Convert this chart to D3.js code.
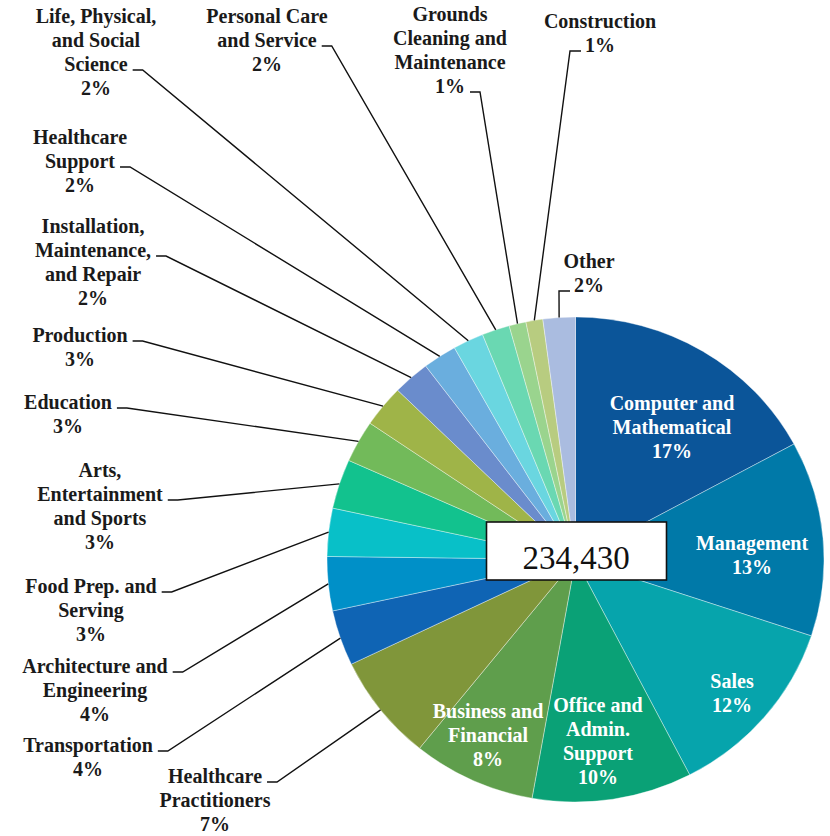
<!DOCTYPE html>
<html>
<head>
<meta charset="utf-8">
<script src="https://cdn.jsdelivr.net/npm/d3@7"></script>
<style>
  body { margin: 0; background: #fff; }
  svg { display: block; }
  .lbl { font-family: "Liberation Serif", "Times New Roman", serif; font-weight: bold; font-size: 20px; }
</style>
</head>
<body>
<svg id="chart"></svg>
<script>
// Data
var categories = [
    "Computer and Mathematical", "Management", "Sales", "Office and Admin. Support",
    "Business and Financial", "Healthcare Practitioners", "Transportation",
    "Architecture and Engineering", "Food Prep. and Serving", "Arts, Entertainment and Sports",
    "Education", "Production", "Installation, Maintenance, and Repair", "Healthcare Support",
    "Life, Physical, and Social Science", "Personal Care and Service",
    "Grounds Cleaning and Maintenance", "Construction", "Other"
];
// how each name is broken onto lines
var labelLines = [
    ["Computer and", "Mathematical"], ["Management"], ["Sales"], ["Office and", "Admin.", "Support"],
    ["Business and", "Financial"], ["Healthcare", "Practitioners"], ["Transportation"],
    ["Architecture and", "Engineering"], ["Food Prep. and", "Serving"], ["Arts,", "Entertainment", "and Sports"],
    ["Education"], ["Production"], ["Installation,", "Maintenance,", "and Repair"], ["Healthcare", "Support"],
    ["Life, Physical,", "and Social", "Science"], ["Personal Care", "and Service"],
    ["Grounds", "Cleaning and", "Maintenance"], ["Construction"], ["Other"]
];
var shares = [17.1, 13.0, 12.3, 10.4, 8.0, 7.1, 3.7, 3.6, 3.2, 3.3, 2.8, 2.8, 2.4, 2.2, 2.0, 1.8, 1.1, 1.1, 2.1];
var total = 234430;

var colors = [
    "#0b5599", "#0079a8", "#06a4ac", "#0aa176", "#5f9e4c", "#80963a", "#0f64b4",
    "#0090c8", "#08c0c8", "#12c28e", "#72ba5a", "#9fb448", "#6a8ccc", "#6aaede",
    "#6ad6e0", "#6ad8b2", "#9ad48e", "#b8cc80", "#aabce0"
];

// label placement (text centre x, first baseline y); inside labels are white
var inside = {
    0: [672, 410], 1: [752, 550], 2: [732, 688], 3: [598, 712], 4: [488, 718]
};
// outside: [centre x, first baseline, line with the stub, stub side]
var outside = {
    5: [215, 783, 0, "r"], 6: [88, 752, 0, "r"], 7: [95, 673, 0, "r"], 8: [91, 593, 0, "r"],
    9: [100, 477, 1, "r"], 10: [68, 409, 0, "r"], 11: [80, 342, 0, "r"], 12: [93, 233, 1, "r"],
    13: [80, 144, 1, "r"], 14: [96, 23, 2, "r"], 15: [267, 23, 1, "r"], 16: [450, 21, 3, "r"],
    17: [600, 28, 1, "l"], 18: [589, 268, 1, "l"]
};

var width = 830, height = 836;
var cx = 575.5, cy = 559.5, rx = 248.5, ry = 242.5;
var lineH = 24;

var svg = d3.select("#chart")
    .attr("width", width)
    .attr("height", height);

var pie = d3.pie().sort(null).value(function(d) { return d; });
var arcs = pie(shares);
var arc = d3.arc().innerRadius(0).outerRadius(rx);

// Slices
svg.append("g")
    .attr("transform", "translate(" + cx + "," + cy + ") scale(1," + (ry / rx) + ")")
    .selectAll("path")
    .data(arcs)
    .enter().append("path")
        .attr("d", arc)
        .attr("fill", function(d, i) { return colors[i]; })
        .attr("stroke", "rgba(255,255,255,0.55)")
        .attr("stroke-width", 0.7)
        .attr("vector-effect", "non-scaling-stroke");

function edgePoint(d) {
    var a = (d.startAngle + d.endAngle) / 2;
    return [cx + rx * Math.sin(a), cy - ry * Math.cos(a)];
}

function pctText(i) {
    return Math.round(shares[i]) + "%";
}

// Inside labels
Object.keys(inside).forEach(function(k) {
    var i = +k, p = inside[k];
    var lines = labelLines[i].concat([pctText(i)]);
    var t = svg.append("text")
        .attr("class", "lbl")
        .attr("text-anchor", "middle")
        .attr("fill", "#ffffff");
    lines.forEach(function(s, j) {
        t.append("tspan").attr("x", p[0]).attr("y", p[1] + j * lineH).text(s);
    });
});

// Outside labels with leader lines
var leaders = svg.append("g");
Object.keys(outside).forEach(function(k) {
    var i = +k, p = outside[k];
    var lines = labelLines[i].concat([pctText(i)]);
    var g = svg.append("g");
    var spans = [];
    lines.forEach(function(s, j) {
        var tx = g.append("text")
            .attr("class", "lbl")
            .attr("text-anchor", "middle")
            .attr("fill", "#1a1a1a")
            .attr("x", p[0])
            .attr("y", p[1] + j * lineH)
            .text(s);
        spans.push(tx);
    });
    var node = spans[p[2]].node();
    var w = node.getComputedTextLength();
    var y = p[1] + p[2] * lineH - 1;
    var x0, x1;
    if (p[3] == "r") {
        x0 = p[0] + w / 2 + 5;
        x1 = x0 + 10;
    } else {
        x0 = p[0] - w / 2 - 4;
        x1 = x0 - 11;
    }
    var e = edgePoint(arcs[i]);
    leaders.append("path")
        .attr("d", "M" + x0 + "," + y + "H" + x1 + "L" + e[0] + "," + e[1])
        .attr("fill", "none")
        .attr("stroke", "#111")
        .attr("stroke-width", 1.4);
});

// Total box in the middle
svg.append("rect")
    .attr("x", 486.5)
    .attr("y", 522)
    .attr("width", 180)
    .attr("height", 58)
    .attr("fill", "#fff")
    .attr("stroke", "#111")
    .attr("stroke-width", 1.6);

svg.append("text")
    .attr("x", 576)
    .attr("y", 569)
    .attr("text-anchor", "middle")
    .style("font-family", "'Liberation Serif', serif")
    .style("font-size", "33px")
    .attr("fill", "#111")
    .text(d3.format(",")(total));
</script>
</body>
</html>
